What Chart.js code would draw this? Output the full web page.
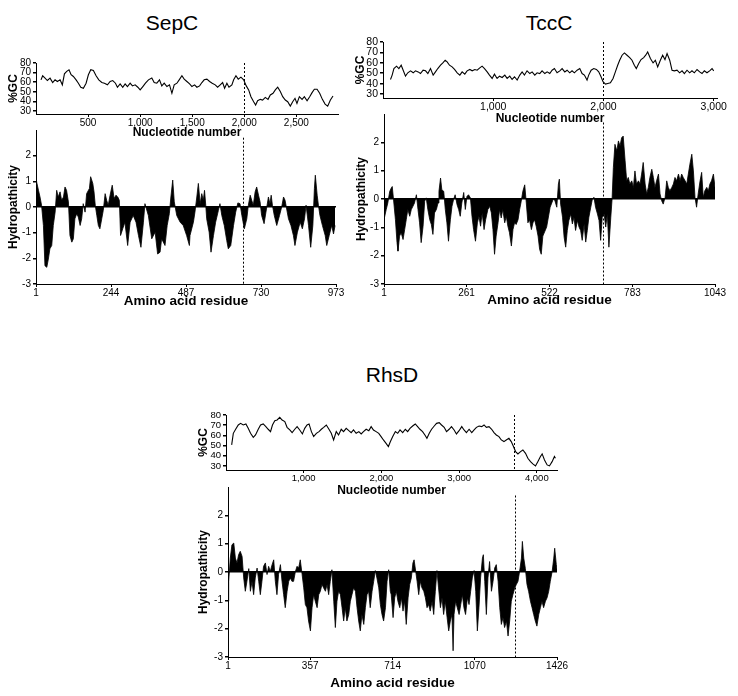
<!DOCTYPE html>
<html>
<head>
<meta charset="utf-8">
<script src="https://cdn.jsdelivr.net/npm/chart.js@4.4.1/dist/chart.umd.min.js"></script>
<style>
  body { margin: 0; background: #fff; width: 738px; height: 696px; position: relative; overflow: hidden;
         font-family: 'Liberation Sans', Arial, sans-serif; }
  .title { position: absolute; font-size: 21px; transform: translate(-50%, -50%); white-space: nowrap; }
  canvas { position: absolute; }
</style>
</head>
<body>
<div class="title" style="left:172px; top:23px">SepC</div>
<div class="title" style="left:549px; top:23px">TccC</div>
<div class="title" style="left:392px; top:375px">RhsD</div>

<canvas id="sepcGc" width="350" height="95" style="left:0px; top:45px; width:350px; height:95px"></canvas>
<canvas id="sepcHydro" width="350" height="189" style="left:0px; top:120px; width:350px; height:189px"></canvas>
<canvas id="tccGc" width="385" height="98" style="left:345px; top:28px; width:385px; height:98px"></canvas>
<canvas id="tccHydro" width="385" height="203" style="left:345px; top:105px; width:385px; height:203px"></canvas>
<canvas id="rhsGc" width="385" height="103" style="left:185px; top:395px; width:385px; height:103px"></canvas>
<canvas id="rhsHydro" width="385" height="213" style="left:185px; top:478px; width:385px; height:213px"></canvas>

<script>
// tick values
const gcTicks = [30, 40, 50, 60, 70, 80];
const hydroTicks = [-3, -2, -1, 0, 1, 2];
const sepcNtTicks = [500, 1000, 1500, 2000, 2500];
const tccNtTicks = [1000, 2000, 3000];
const rhsNtTicks = [1000, 2000, 3000, 4000];
const sepcResTicks = [1, 244, 487, 730, 973];
const tccResTicks = [1, 261, 522, 783, 1043];
const rhsResTicks = [1, 357, 714, 1070, 1426];

// dotted boundary (nucleotide / residue)
const sepcBoundary = [2000, 672];
const tccBoundary = [2000, 689];
const rhsBoundary = [3705, 1244];

// %GC: [nucleotide, %GC]
const sepcGc = [[48,62.5],[64,66.7],[87,64.3],[109,61.8],[135,64.3],[160,59.7],[183,62.5],[205,60.8],[231,62.5],[253,57.3],[273,68.8],[295,71.3],[317,73],[337,67.8],[359,66],[385,62.5],[407,59],[430,54.8],[455,53.8],[481,59],[503,67.8],[526,73],[551,72.3],[577,66.7],[603,62.5],[632,59.7],[657,59],[686,57.3],[712,60.8],[737,61.8],[763,59],[782,54.8],[808,58.3],[833,54.8],[856,58.3],[878,55.5],[904,59],[926,56.2],[952,57.3],[978,54.8],[1000,52],[1026,55.5],[1051,59],[1080,62.5],[1112,64.3],[1135,59.7],[1160,59],[1186,62.5],[1208,56.2],[1231,59],[1257,55.5],[1282,57.3],[1305,48.5],[1327,57.3],[1353,59],[1375,62.5],[1401,66.7],[1423,63.2],[1449,60.8],[1475,58.3],[1497,55.5],[1523,57.3],[1545,54.8],[1571,56.2],[1593,59.7],[1615,62.5],[1641,63.2],[1667,60.8],[1692,59],[1721,57.3],[1744,54.8],[1769,57.3],[1792,59.7],[1811,53.8],[1833,59],[1853,54.8],[1881,57.3],[1898,62.5],[1920,66.7],[1942,63.2],[1968,65.3],[1994,62.5],[2019,56.2],[2042,52],[2064,45],[2090,39.8],[2109,36.3],[2128,40.8],[2154,42.2],[2176,41.5],[2202,44.3],[2228,42.2],[2250,46.8],[2276,48.5],[2298,52],[2321,54.8],[2346,50.3],[2369,45],[2394,41.5],[2417,39.8],[2442,35.2],[2465,39.8],[2487,43.3],[2506,38],[2529,45],[2555,42.2],[2577,45],[2603,40.8],[2628,45],[2651,49.2],[2673,52.7],[2699,52.7],[2724,48.5],[2750,42.2],[2776,37.3],[2801,35.2],[2827,41.5],[2852,45.7]];

const tccGc = [[68,44],[83,48.2],[99,54.5],[123,56.8],[144,54.5],[165,57.7],[183,52.9],[204,47.2],[225,50.4],[250,52.3],[274,50.4],[295,52.3],[319,51.3],[340,49.7],[364,52.9],[386,52.3],[407,49.7],[431,54.5],[455,48.2],[476,51.3],[497,54.5],[522,57.7],[543,59.9],[564,62.5],[582,60.9],[603,57.7],[627,56.1],[649,53.6],[673,50.4],[697,48.2],[718,51.3],[742,49.1],[763,52.3],[788,53.6],[809,52.3],[833,53.6],[854,52.9],[878,55.2],[899,56.8],[921,54.5],[945,51.3],[966,48.2],[990,45],[1011,49.1],[1035,45],[1057,47.2],[1081,45.9],[1105,48.2],[1126,45],[1150,47.2],[1171,44],[1193,46.6],[1217,43.4],[1241,48.2],[1262,51.3],[1283,48.2],[1307,52.3],[1332,49.7],[1353,51.3],[1377,48.2],[1398,50.4],[1422,49.7],[1443,52.3],[1468,49.7],[1489,51.3],[1513,49.7],[1534,52.9],[1555,54.5],[1579,50.4],[1604,52.3],[1625,54.5],[1649,51.3],[1670,52.9],[1694,50.4],[1715,52.3],[1736,50.4],[1761,52.9],[1785,54.5],[1806,49.7],[1827,48.2],[1851,43.4],[1866,48.2],[1888,52.9],[1912,54.5],[1936,53.6],[1957,51.3],[1978,46.6],[1996,41.8],[2018,39.6],[2039,40.2],[2063,40.8],[2087,45],[2108,51.3],[2129,57.7],[2147,62.5],[2169,67.3],[2190,69.5],[2214,67.3],[2238,65],[2259,62.5],[2280,57.7],[2298,54.5],[2320,59.3],[2341,63.1],[2365,65],[2383,67.3],[2401,70.4],[2426,64.1],[2450,59.9],[2471,62.5],[2492,56.1],[2516,62.5],[2537,67.3],[2558,63.1],[2577,68.9],[2601,62.5],[2622,52.9],[2643,52.3],[2667,52.9],[2691,50.4],[2713,52.3],[2734,49.7],[2758,52.9],[2782,50.4],[2803,52.3],[2824,50.4],[2849,53.6],[2873,51.3],[2894,49.7],[2915,52.3],[2939,50.4],[2963,52.3],[2985,54.5],[3000,52.3]];

const rhsGc = [[73,50.6],[94,62],[124,66],[158,70.2],[188,71.8],[222,70.2],[256,71.2],[286,66.9],[316,62],[351,58.1],[380,60.4],[415,66],[445,70.2],[479,71.2],[513,68.6],[543,66],[573,63.7],[598,70.2],[628,74.4],[658,75.1],[692,77.7],[722,75.1],[757,73.5],[786,67.9],[821,65.3],[851,62.7],[885,66],[915,68.6],[949,65.3],[983,61.4],[1013,66.9],[1043,70.2],[1069,71.2],[1099,63.7],[1128,58.8],[1163,62],[1197,63.7],[1227,66],[1257,67.9],[1291,70.2],[1325,66],[1355,62],[1385,55.5],[1419,63.7],[1449,60.4],[1483,66],[1513,63.7],[1547,66.9],[1581,64.6],[1611,62.7],[1641,65.3],[1675,62],[1710,63.7],[1740,61.4],[1769,63.7],[1804,66],[1838,64.6],[1868,68.6],[1898,65.3],[1932,63.7],[1966,62],[1996,58.8],[2026,55.5],[2060,52.2],[2090,49],[2116,53.9],[2146,58.8],[2180,63.7],[2210,62],[2240,65.3],[2274,62.7],[2308,66],[2338,63.7],[2368,66.9],[2402,69.2],[2436,71.2],[2466,68.6],[2496,66],[2530,63.7],[2560,60.4],[2586,57.1],[2616,62],[2646,66],[2680,69.2],[2710,71.8],[2744,72.5],[2774,70.2],[2808,67.9],[2838,63.7],[2872,66],[2902,68.6],[2936,65.3],[2966,61.4],[3000,64.6],[3034,68.6],[3064,65.3],[3094,62.7],[3129,66],[3163,62.7],[3193,65.3],[3223,67.9],[3257,69.2],[3291,68.6],[3321,70.2],[3351,67.9],[3385,68.6],[3419,66],[3449,62.7],[3479,60.4],[3513,58.8],[3543,55.5],[3577,53.9],[3607,55.5],[3641,57.1],[3671,53.9],[3697,49.6],[3727,44.1],[3757,41.8],[3791,44.1],[3821,45.7],[3855,42.4],[3885,37.5],[3919,34.2],[3949,32],[3983,30],[4013,34.2],[4047,39.2],[4069,41.8],[4099,35.9],[4133,31],[4163,30],[4197,34.2],[4227,39.2],[4240,37.5]];

// hydropathicity: [residue, value]
const sepcHydro = [[1,1.0],[3,0.98],[9,0.65],[14,0.39],[19,0.07],[25,-0.72],[30,-2.29],[36,-2.35],[41,-2.03],[46,-1.63],[52,-1.5],[57,-0.72],[63,-0.2],[68,0.65],[73,0.39],[79,0.59],[84,0.26],[90,0.39],[95,0.78],[100,0.65],[106,0.2],[111,-1.11],[117,-1.37],[122,-1.24],[127,-0.46],[133,-0.26],[138,-0.39],[144,-0.72],[149,-0.46],[154,0.13],[160,-0.2],[165,0.52],[174,0.72],[178,1.18],[185,0.92],[189,0.59],[193,0.07],[198,-0.33],[203,-0.72],[208,-0.85],[214,-0.46],[219,-0.13],[225,0.52],[230,0.26],[235,0.07],[241,0.46],[248,0.85],[254,0.33],[260,0.46],[266,0.39],[271,0.26],[275,-1.11],[282,-0.85],[289,-0.59],[298,-1.5],[306,-0.59],[316,-0.33],[325,-0.59],[333,-1.11],[341,-1.57],[349,-0.59],[354,0.13],[365,-0.33],[376,-1.24],[387,-0.98],[395,-1.83],[403,-1.76],[408,-1.24],[419,-1.5],[426,-0.72],[433,-0.26],[438,0.39],[444,1.05],[449,0.2],[457,-0.33],[468,-0.59],[478,-0.72],[489,-1.11],[498,-1.5],[500,-1.11],[511,-0.59],[516,-0.2],[522,0.39],[527,0.92],[533,0.13],[538,0.52],[543,0.26],[547,0.65],[551,0.07],[554,-0.46],[562,-0.98],[568,-1.76],[576,-1.11],[583,-0.59],[592,-0.13],[597,0.13],[603,-0.33],[611,-0.72],[619,-1.31],[624,-1.63],[632,-1.5],[641,-0.72],[648,-0.2],[655,0.16],[662,0.13],[668,-0.33],[676,-0.85],[684,-0.46],[689,0.07],[695,0.46],[700,0.26],[705,0.07],[711,0.59],[716,0.78],[722,0.46],[727,0.2],[732,-0.33],[740,-0.65],[746,-0.2],[754,0.39],[759,0.13],[763,0.46],[767,0.07],[773,-0.33],[781,-0.72],[790,-0.33],[797,0],[803,0.39],[808,0.26],[819,-0.46],[827,-0.72],[835,-1.11],[840,-1.5],[848,-0.98],[857,-0.59],[864,-0.85],[871,-0.46],[876,0.07],[884,-0.72],[891,-1.57],[898,-0.72],[903,0.72],[906,1.24],[912,0.46],[916,0.07],[921,-0.33],[929,-0.72],[938,-1.11],[943,-1.5],[951,-1.11],[959,-0.72],[965,-1.05],[970,-0.72]];

const tccHydro = [[1,-0.73],[8,-0.37],[13,-0.14],[19,0.27],[24,0.39],[27,0.44],[31,-0.02],[37,-0.73],[42,-1.54],[45,-1.84],[50,-1.31],[55,-1.19],[61,-1.43],[66,-1.08],[71,-0.73],[76,-0.37],[82,-0.61],[87,-0.37],[92,-0.26],[97,-0.14],[103,0.15],[108,-0.37],[113,-0.84],[118,-1.54],[124,-0.96],[129,-0.08],[134,0.04],[139,-0.37],[145,-0.73],[150,-0.9],[155,-1.25],[160,-0.49],[166,-0.37],[171,-0.14],[174,0.27],[179,0.74],[183,0.33],[189,0.27],[194,-0.37],[199,-0.84],[204,-1.49],[210,-0.73],[215,-0.26],[220,-0.02],[225,0.15],[231,-0.2],[236,-0.37],[241,-0.61],[246,-0.14],[252,0.23],[257,-0.37],[262,0.09],[267,0.15],[273,0.04],[278,-0.61],[283,-1.08],[289,-1.49],[295,-0.84],[300,-0.61],[305,-0.96],[310,-0.49],[316,-1.08],[321,-0.73],[328,-0.37],[334,-0.26],[339,-0.49],[344,-1.08],[349,-1.95],[354,-1.31],[360,-0.84],[365,-0.37],[370,-0.67],[375,-0.37],[381,-0.84],[386,-0.61],[391,-0.96],[396,-1.19],[402,-1.66],[407,-1.08],[412,-0.84],[417,-0.9],[423,-0.73],[428,-0.37],[433,-0.08],[438,0.27],[444,0.5],[449,-0.14],[454,-0.84],[459,-0.73],[465,-1.08],[470,-0.84],[475,-0.73],[480,-0.96],[486,-1.31],[491,-1.78],[496,-1.95],[501,-1.31],[513,-0.99],[524,-0.29],[534,0],[539,-0.06],[545,-0.29],[550,0.53],[553,0.7],[557,-0.18],[563,-0.64],[568,-1.35],[573,-1.7],[578,-1.11],[583,-0.76],[589,-0.53],[594,-0.88],[599,-0.64],[604,-1.11],[610,-0.76],[615,-0.99],[620,-1.11],[625,-1.46],[631,-0.88],[636,-1.52],[641,-1.11],[646,-0.64],[652,-0.29],[657,0],[662,0.06],[667,-0.29],[673,-0.53],[678,-0.76],[683,-1.46],[688,-0.64],[694,-0.53],[699,-0.99],[704,-0.53],[709,-1.7],[715,-0.64],[719,0],[723,1.11],[728,1.93],[734,1.7],[739,2.05],[744,1.87],[749,2.16],[754,2.22],[760,1.35],[765,0.64],[770,0.76],[775,0.53],[781,0.64],[786,0.41],[791,0.99],[796,0.53],[802,0.64],[807,0.53],[812,0.88],[817,1.29],[823,0.53],[828,0.18],[833,0.41],[838,0.76],[844,1.05],[849,0.76],[854,0.41],[859,0.64],[865,0.88],[870,0.18],[875,-0.06],[880,-0.18],[886,0.06],[891,0.64],[896,0.41],[901,0.29],[907,0.41],[912,0.53],[917,0.76],[922,0.64],[928,0.88],[933,0.64],[938,0.88],[943,0.76],[949,0.64],[954,0.53],[959,0.88],[964,1.23],[970,1.58],[975,0.99],[980,0.06],[985,-0.29],[990,0.18],[996,0.64],[1001,0.94],[1006,0.06],[1011,0.29],[1017,0.41],[1022,0.29],[1027,0.53],[1032,0.64],[1038,0.88],[1043,0.41]];

const rhsHydro = [[1,-1.03],[4,-0.33],[11,0.49],[18,0.96],[26,1.02],[33,0.49],[40,0.32],[47,0.61],[54,0.73],[62,0.55],[69,-0.21],[76,-0.68],[83,-0.33],[91,0.12],[98,-0.68],[105,-0.33],[112,-0.8],[119,-0.21],[127,0.14],[134,-0.33],[141,-0.8],[148,-0.33],[155,0.2],[163,0.32],[170,-0.09],[177,0.2],[184,0.02],[192,0.26],[199,0.43],[206,-0.33],[213,-0.8],[220,-0.09],[228,0.26],[235,-0.33],[242,-0.8],[249,-1.26],[257,-0.68],[264,-0.33],[271,-0.21],[278,-0.33],[285,-0.33],[293,0.02],[300,0.2],[307,0.14],[314,0.43],[322,-0.09],[329,-0.56],[336,-1.15],[343,-1.26],[350,-1.73],[358,-2.08],[365,-1.26],[372,-0.8],[379,-1.03],[387,-1.26],[394,-0.8],[401,-0.68],[408,-0.44],[415,-0.56],[423,-0.68],[430,-0.44],[437,-0.8],[444,-0.33],[451,0.08],[459,-1.03],[466,-1.96],[473,-1.03],[480,-0.68],[488,-0.8],[495,-1.26],[502,-1.73],[509,-1.26],[516,-1.73],[524,-1.5],[531,-1.03],[538,-0.8],[545,-0.56],[553,-0.68],[560,-1.26],[567,-1.73],[574,-2.08],[581,-1.5],[589,-1.85],[596,-1.26],[603,-0.8],[610,-0.68],[617,-1.26],[625,-0.68],[632,-0.33],[639,0.05],[646,-0.21],[654,-0.56],[661,-1.15],[668,-1.5],[675,-1.73],[683,-1.26],[690,-0.33],[697,0.08],[704,-0.68],[708,-0.8],[716,-1.61],[723,-0.91],[730,-0.68],[737,-1.03],[745,-1.26],[752,-0.91],[759,-1.38],[766,-1.03],[773,-1.85],[781,-0.91],[788,-0.44],[795,-0.21],[802,0.32],[807,0.43],[812,0.14],[820,-0.33],[827,-0.8],[834,-0.33],[841,-0.56],[849,-0.68],[856,-0.91],[863,-1.26],[870,-1.15],[877,-1.38],[885,-1.03],[892,-1.5],[899,-0.68],[906,0.05],[913,-0.56],[921,-1.26],[928,-0.91],[935,-1.5],[942,-1.03],[950,-1.61],[957,-2.08],[964,-1.73],[971,-1.5],[976,-2.78],[980,-1.5],[987,-1.03],[994,-1.26],[1002,-1.5],[1009,-1.15],[1016,-0.8],[1023,-1.26],[1030,-1.5],[1038,-0.91],[1045,-1.15],[1052,-0.68],[1059,-0.21],[1067,0.05],[1074,-0.68],[1081,-2.08],[1088,-1.26],[1095,-0.21],[1103,0.49],[1107,0.61],[1113,-0.33],[1120,-1.5],[1127,-0.21],[1134,0.37],[1142,-0.68],[1149,-0.33],[1156,0.14],[1163,0.26],[1171,-0.33],[1178,-1.26],[1185,-1.85],[1192,-1.61],[1199,-1.96],[1207,-1.73],[1214,-2.26],[1221,-1.73],[1228,-1.03],[1235,-0.8],[1243,-0.56],[1250,-0.44],[1257,-0.33],[1264,0.02],[1272,0.49],[1276,1.08],[1282,0.49],[1289,0.12],[1296,-0.44],[1303,-0.68],[1311,-1.03],[1318,-1.26],[1325,-1.5],[1332,-1.73],[1339,-1.91],[1347,-1.5],[1354,-1.26],[1361,-1.03],[1368,-1.26],[1376,-1.03],[1383,-0.91],[1390,-0.68],[1397,-0.33],[1405,0.02],[1412,0.49],[1416,0.84],[1423,0.26],[1426,0.1]];

Chart.defaults.font.family = "'Liberation Sans', Arial, sans-serif";
Chart.defaults.color = '#000';

// dotted vertical line at the boundary
const boundaryLine = {
  id: 'boundaryLine',
  afterDatasetsDraw(chart, args, opts) {
    const { ctx, chartArea, scales: { x, y } } = chart;
    const px = Math.round(x.getPixelForValue(opts.at)) + 0.5;
    const top = opts.from === undefined ? chartArea.top : y.getPixelForValue(opts.from);
    ctx.save();
    ctx.strokeStyle = '#000';
    ctx.lineWidth = 1;
    ctx.setLineDash([2, 2]);
    ctx.beginPath();
    ctx.moveTo(px, top);
    ctx.lineTo(px, chartArea.bottom);
    ctx.stroke();
    ctx.restore();
  }
};

function axisX(p, ticks, title, hydro) {
  return {
    type: 'linear', min: p.xMin, max: p.xMax,
    afterBuildTicks: s => { s.ticks = ticks.map(v => ({ value: v })) },
    afterFit: s => { s.height = p.xh },
    ticks: { font: { size: p.tickSize }, padding: 0, maxRotation: 0, autoSkip: false,
             callback: v => hydro ? String(v) : v.toLocaleString('en-US') },
    grid: { drawOnChartArea: false, tickLength: 3, color: '#000' },
    border: { color: '#000', width: 1 },
    title: { display: true, text: title, font: { size: hydro ? 13.5 : 12, weight: 'bold' }, padding: { top: 0, bottom: 0 } }
  };
}

function axisY(p, ticks, title, hydro) {
  return {
    min: p.yMin, max: p.yMax,
    afterBuildTicks: s => { s.ticks = ticks.map(v => ({ value: v })) },
    afterFit: s => { s.width = p.yw },
    ticks: { font: { size: p.tickSize }, padding: 2, autoSkip: false },
    grid: {
      drawOnChartArea: hydro, tickLength: 3, tickColor: '#000', lineWidth: 1.5,
      color: c => (hydro && c.tick && c.tick.value === 0) ? '#000' : 'rgba(0,0,0,0)'
    },
    border: { color: '#000', width: 1 },
    title: { display: true, text: title, font: { size: 12, weight: 'bold' }, padding: { top: p.titlePad, bottom: 0 } }
  };
}

function panel(id, points, p, xTicks, yTicks, xTitle, yTitle, hydro) {
  new Chart(document.getElementById(id), {
    type: 'line',
    data: {
      datasets: [{
        data: points.map(d => ({ x: d[0], y: d[1] })),
        borderColor: '#000',
        backgroundColor: '#000',
        borderWidth: hydro ? 0.8 : 1.1,
        fill: hydro ? 'origin' : false,
        pointRadius: 0,
        tension: 0
      }]
    },
    options: {
      responsive: false,
      animation: false,
      devicePixelRatio: 1,
      layout: { padding: { left: 0, top: p.padTop, right: p.padRight, bottom: 0 } },
      plugins: {
        legend: { display: false },
        tooltip: { enabled: false },
        boundaryLine: { at: p.boundary, from: p.from }
      },
      scales: {
        x: axisX(p, xTicks, xTitle, hydro),
        y: axisY(p, yTicks, yTitle, hydro)
      }
    },
    plugins: [boundaryLine]
  });
}

panel('sepcGc', sepcGc,
  { xMin: 0, xMax: 2900, yMin: 27, yMax: 80, yw: 36, xh: 26, padTop: 18, padRight: 12, titlePad: 6, tickSize: 10, boundary: sepcBoundary[0] },
  sepcNtTicks, gcTicks, 'Nucleotide number', '%GC', false);
panel('sepcHydro', sepcHydro,
  { xMin: 1, xMax: 973, yMin: -3, yMax: 3, yw: 36, xh: 25, padTop: 10, padRight: 14, titlePad: 6, tickSize: 10, boundary: sepcBoundary[1], from: 2.7 },
  sepcResTicks, hydroTicks, 'Amino acid residue', 'Hydropathicity', true);

panel('tccGc', tccGc,
  { xMin: 0, xMax: 3030, yMin: 26.2, yMax: 80, yw: 38, xh: 28, padTop: 14, padRight: 13, titlePad: 8, tickSize: 10.5, boundary: tccBoundary[0] },
  tccNtTicks, gcTicks, 'Nucleotide number', '%GC', false);
panel('tccHydro', tccHydro,
  { xMin: 1, xMax: 1043, yMin: -3, yMax: 3, yw: 39, xh: 24, padTop: 9, padRight: 15, titlePad: 9, tickSize: 10, boundary: tccBoundary[1], from: 2.7 },
  tccResTicks, hydroTicks, 'Amino acid residue', 'Hydropathicity', true);

panel('rhsGc', rhsGc,
  { xMin: 0, xMax: 4260, yMin: 26, yMax: 80, yw: 41, xh: 28, padTop: 20, padRight: 13, titlePad: 11, tickSize: 9.5, boundary: rhsBoundary[0] },
  rhsNtTicks, gcTicks, 'Nucleotide number', '%GC', false);
panel('rhsHydro', rhsHydro,
  { xMin: 1, xMax: 1426, yMin: -3, yMax: 3, yw: 43, xh: 34, padTop: 9, padRight: 13, titlePad: 11, tickSize: 10, boundary: rhsBoundary[1], from: 2.7 },
  rhsResTicks, hydroTicks, 'Amino acid residue', 'Hydropathicity', true);
</script>
</body>
</html>
